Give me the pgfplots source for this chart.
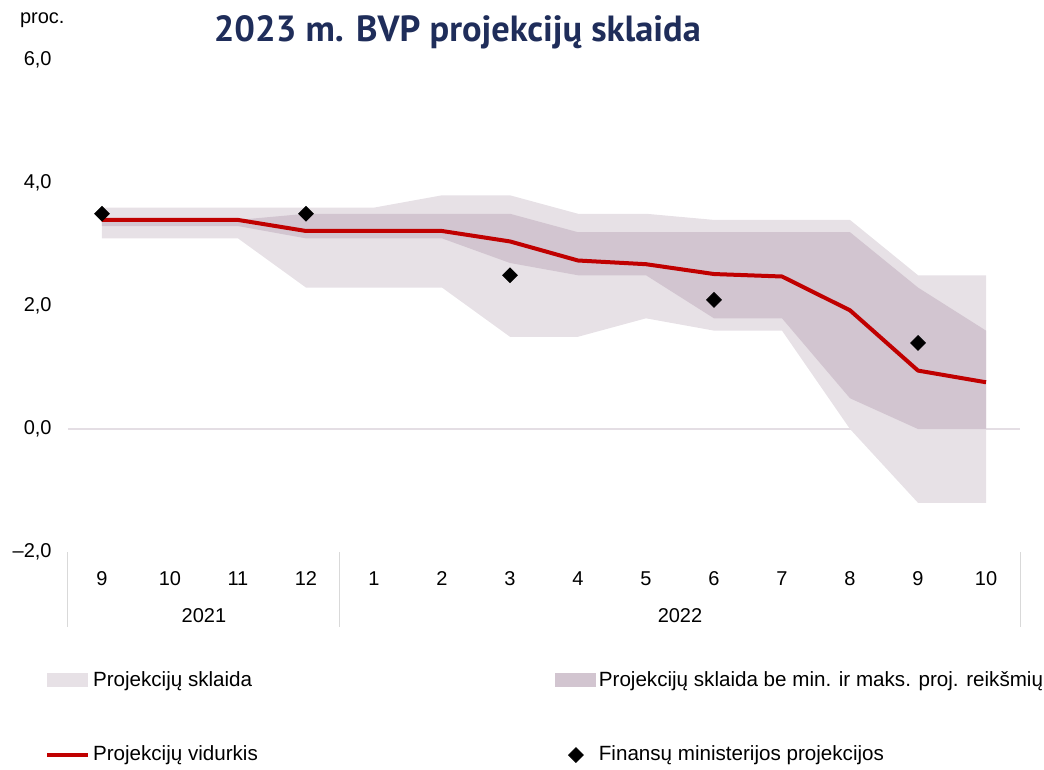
\documentclass[border=0pt]{standalone}
\usepackage{pgfplots}
\pgfplotsset{compat=1.18}
\usepgfplotslibrary{fillbetween}
\usepackage{pgfplotstable}
\usepackage{fontspec}
\setmainfont{Liberation Sans}
\newfontfamily\titlefont{PT Sans}

\definecolor{outerband}{HTML}{E7E1E6}
\definecolor{innerband}{HTML}{D2C5D0}
\definecolor{meanred}{HTML}{C00000}
\definecolor{titleblue}{HTML}{1F2D5A}
\definecolor{sepgrey}{HTML}{D9D9D9}
\definecolor{gridc}{HTML}{E4DEE4}

\pgfplotsset{
    arealeg/.style={legend image code/.code={\fill[##1] (-1pt,-3.5pt) rectangle (19.5pt,3.5pt);}},
    lineleg/.style={legend image code/.code={\draw[##1] (-1pt,0pt) -- (19.5pt,0pt);}},
    markleg/.style={legend image code/.code={\draw[mark repeat=2,mark phase=2,##1] plot coordinates {(0pt,0pt) (9.5pt,0pt) (19pt,0pt)};}},
}

% spread of 2023 GDP forecasts, by month of projection
\pgfplotstableread{
x omax omin imax imin mean
0  3.6  3.1 3.4 3.3 3.40
1  3.6  3.1 3.4 3.3 3.40
2  3.6  3.1 3.4 3.3 3.40
3  3.6  2.3 3.5 3.1 3.22
4  3.6  2.3 3.5 3.1 3.22
5  3.8  2.3 3.5 3.1 3.22
6  3.8  1.5 3.5 2.7 3.05
7  3.5  1.5 3.2 2.5 2.74
8  3.5  1.8 3.2 2.5 2.68
9  3.4  1.6 3.2 1.8 2.52
10 3.4  1.6 3.2 1.8 2.48
11 3.4  0.0 3.2 0.5 1.93
12 2.5 -1.2 2.3 0.0 0.95
13 2.5 -1.2 1.6 0.0 0.76
}\bands

\pgfplotstableread{
x fm
0  3.5
3  3.5
6  2.5
9  2.1
12 1.4
}\finmin

\begin{document}
\begin{tikzpicture}
\begin{axis}[
    scale only axis,
    width=476pt, height=246pt,
    xmin=-0.5, xmax=13.5,
    ymin=-2, ymax=6,
    axis line style={draw=none},
    major tick length=0pt,
    xtick={0,...,13},
    xticklabels={9,10,11,12,1,2,3,4,5,6,7,8,9,10},
    ytick={-2,0,2,4,6},
    yticklabels={{–2,0},{0,0},{2,0},{4,0},{6,0}},
    xticklabel style={anchor=base, yshift=-16.5pt},
    yticklabel style={anchor=east, xshift=-8pt, inner sep=0pt},
    extra y ticks={0},
    extra y tick labels={},
    extra y tick style={grid=major},
    major grid style={draw=gridc, line width=0.75pt},
    font=\fontsize{10}{12}\selectfont,
    tick label style={font=\fontsize{10}{12}\selectfont},
    legend columns=2,
    legend cell align=left,
    legend style={
        at={(rel axis cs:-0.0245,-0.233)}, anchor=north west,
        draw=none, fill=none, inner sep=0pt,
        row sep=24.5pt,
        font=\fontsize{10.3}{12}\selectfont,
        /tikz/every even column/.append style={column sep=147pt},
        nodes={inner xsep=1.5pt},
    },
    clip=false,
]
\addplot[name path=omax, draw=none, forget plot] table[x=x, y=omax] {\bands};
\addplot[name path=omin, draw=none, forget plot] table[x=x, y=omin] {\bands};
\addplot[fill=outerband, draw=none, arealeg] fill between[of=omax and omin];
\addlegendentry{Projekcijų sklaida}

\addplot[name path=imax, draw=none, forget plot] table[x=x, y=imax] {\bands};
\addplot[name path=imin, draw=none, forget plot] table[x=x, y=imin] {\bands};
\addplot[fill=innerband, draw=none, arealeg] fill between[of=imax and imin];
\addlegendentry{Projekcijų sklaida be min. ir maks. proj. reikšmių}

\addplot[meanred, line width=2pt, line join=round, mark=none, lineleg]
    table[x=x, y=mean] {\bands};
\addlegendentry{Projekcijų vidurkis}

\addplot[only marks, mark=square*, mark size=2.6pt,
    mark options={rotate=45, fill=black, draw=black}, markleg]
    table[x=x, y=fm] {\finmin};
\addlegendentry{Finansų ministerijos projekcijos}

% category separators and years
\draw[sepgrey, line width=0.5pt] (axis cs:-0.5,-2) -- ++(0pt,-37.5pt);
\draw[sepgrey, line width=0.5pt] (axis cs:3.5,-2) -- ++(0pt,-37.5pt);
\draw[sepgrey, line width=0.5pt] (axis cs:13.5,-2) -- ++(0pt,-37.5pt);
\node[anchor=base] at ([yshift=-35pt]axis cs:1.5,-2) {2021};
\node[anchor=base] at ([yshift=-35pt]axis cs:8.5,-2) {2022};

\node at (rel axis cs:-0.027,1.081) {proc.};
\node[font=\titlefont\bfseries\fontsize{18.2}{21}\selectfont, text=titleblue]
    at (rel axis cs:0.409,1.056) {2023 m. BVP projekcijų sklaida};

\coordinate (bl) at (rel axis cs:-0.0714,-0.441);
\coordinate (tr) at (rel axis cs:1.0252,1.122);
\end{axis}
\pgfresetboundingbox
\path[use as bounding box] (bl) rectangle (tr);
\end{tikzpicture}
\end{document}
